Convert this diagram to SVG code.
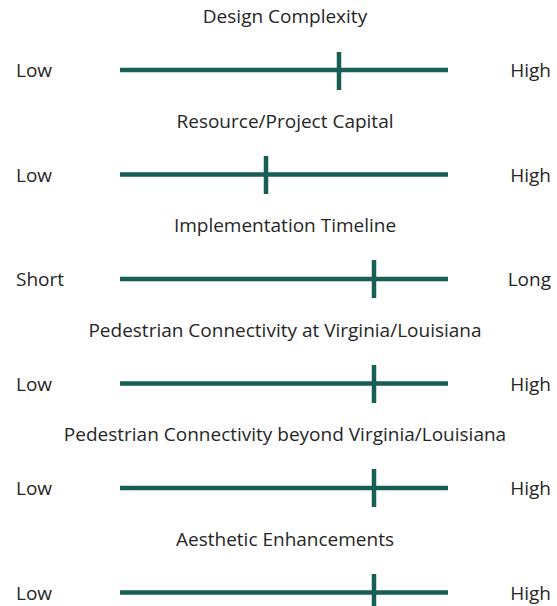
<svg xmlns="http://www.w3.org/2000/svg" width="557" height="606" viewBox="0 0 557 606">
<style>
text{font-family:"Open Sans","Liberation Sans",sans-serif;font-size:19px;fill:#262626}
.t{text-anchor:middle}
.r{text-anchor:end}
.ln{stroke:#175e54;stroke-width:4.5;fill:none}
.tk{stroke:#175e54;stroke-width:4.5}
</style>
<rect width="557" height="606" fill="#fff"/>
<g id="scale1">
<text class="t" x="285" y="23">Design Complexity</text>
<text x="16" y="77">Low</text>
<text class="r" x="551" y="77">High</text>
</g>
<g id="scale2">
<text class="t" x="285" y="127.5">Resource/Project Capital</text>
<text x="16" y="181.5">Low</text>
<text class="r" x="551" y="181.5">High</text>
</g>
<g id="scale3">
<text class="t" x="285" y="232">Implementation Timeline</text>
<text x="16" y="286">Short</text>
<text class="r" x="551" y="286">Long</text>
</g>
<g id="scale4">
<text class="t" x="285" y="336.5">Pedestrian Connectivity at Virginia/Louisiana</text>
<text x="16" y="390.5">Low</text>
<text class="r" x="551" y="390.5">High</text>
</g>
<g id="scale5">
<text class="t" x="285" y="441">Pedestrian Connectivity beyond Virginia/Louisiana</text>
<text x="16" y="495">Low</text>
<text class="r" x="551" y="495">High</text>
</g>
<g id="scale6">
<text class="t" x="285" y="545.5">Aesthetic Enhancements</text>
<text x="16" y="599.5">Low</text>
<text class="r" x="551" y="599.5">High</text>
</g>
<g id="connectors">
<line class="ln" x1="120" y1="70" x2="448" y2="70"/>
<line class="tk" x1="339" y1="52" x2="339" y2="90"/>
<line class="ln" x1="120" y1="174.5" x2="448" y2="174.5"/>
<line class="tk" x1="266" y1="156" x2="266" y2="194"/>
<line class="ln" x1="120" y1="279" x2="448" y2="279"/>
<line class="tk" x1="374" y1="260" x2="374" y2="298"/>
<line class="ln" x1="120" y1="383.5" x2="448" y2="383.5"/>
<line class="tk" x1="374" y1="365" x2="374" y2="403"/>
<line class="ln" x1="120" y1="488" x2="448" y2="488"/>
<line class="tk" x1="374" y1="469" x2="374" y2="507"/>
<line class="ln" x1="120" y1="592.5" x2="448" y2="592.5"/>
<line class="tk" x1="374" y1="574" x2="374" y2="612"/>
</g>
</svg>
